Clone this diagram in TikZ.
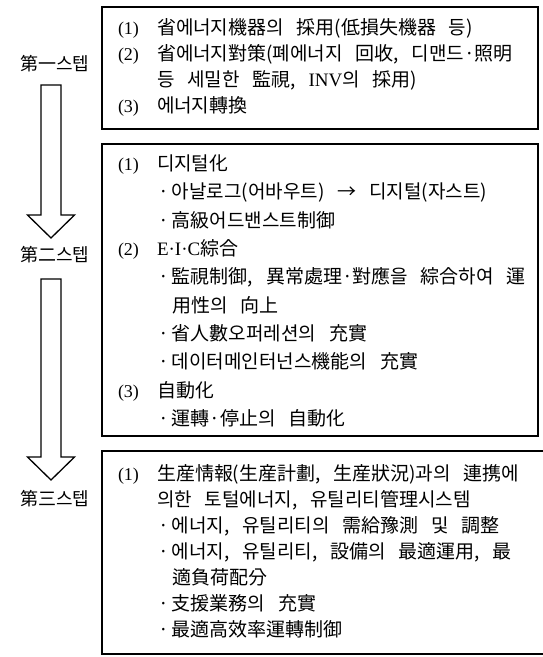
\documentclass[tikz,border=0pt]{standalone}
\usepackage{fontspec}
\setmainfont{Liberation Serif}
\newfontfamily\kr[WordSpace=3.0]{Noto Sans CJK KR}
\usetikzlibrary{calc}
\newcommand{\bul}{\makebox[14pt][l]{·}}
\newcommand{\latn}[1]{{\rmfamily #1}}
\begin{document}
\begin{tikzpicture}[x=1pt,y=-1pt,
  every node/.style={inner sep=0pt,outer sep=0pt},
  ln/.style={anchor=base west,font=\kr\fontsize{19}{22}\selectfont},
  num/.style={anchor=base west,font=\rmfamily\fontsize{18}{20}\selectfont},
  lab/.style={anchor=base,font=\kr\fontsize{18}{22}\selectfont},
  frame/.style={draw,line width=1.2pt,anchor=north west},
  blk/.style={draw,line width=1.3pt,line join=miter}]
\useasboundingbox (0,0) rectangle (543,657);
% boxes
\node[frame,minimum width=436pt,minimum height=122pt] (box1) at (102,7) {};
\node[frame,minimum width=436pt,minimum height=292pt] (box2) at (102,144) {};
\node[frame,minimum width=446pt,minimum height=203pt] (box3) at (102,451) {};
% step labels
\node[lab] (s1) at (55,70) {第一스텝};
\node[lab] (s2) at (55,261) {第二스텝};
\node[lab] (s3) at (55,505) {第三스텝};
% block arrows
\coordinate (a1s) at (51,85); \coordinate (a1e) at (51,238);
\coordinate (a2s) at (51,279); \coordinate (a2e) at (51,480);
\foreach \s/\e in {a1s/a1e,a2s/a2e}{
  \draw[blk] ($(\s)+(-10,0)$) -- ($(\s)+(10,0)$) -- ($(\e)+(10,-23)$) -- ($(\e)+(23.5,-23)$)
    -- (\e) -- ($(\e)+(-23.5,-23)$) -- ($(\e)+(-10,-23)$) -- cycle;
}
% box 1
\node[num] (b1n1) at (118,34) {(1)};
\node[ln] (b1t1) at (157,34) {省에너지機器의 採用(低損失機器 등)};
\node[num] (b1n2) at (118,60) {(2)};
\node[ln] (b1t2) at (157,60) {省에너지對策(폐에너지 回收, 디맨드·照明};
\node[ln] (b1t3) at (157,86) {등 세밀한 監視, \latn{INV}의 採用)};
\node[num] (b1n3) at (118,112) {(3)};
\node[ln] (b1t4) at (157,112) {에너지轉換};
% box 2
\node[num] (b2n1) at (118,170) {(1)};
\node[ln] (b2t1) at (157,170) {디지털化};
\node[ln] (b2t2) at (158,198) {\bul 아날로그(어바우트) → 디지털(자스트)};
\node[ln] (b2t3) at (158,227) {\bul 高級어드밴스트制御};
\node[num] (b2n2) at (118,255) {(2)};
\node[ln] (b2t4) at (157,255) {\latn{E·I·C}綜合};
\node[ln] (b2t5) at (158,283) {\bul 監視制御, 異常處理·對應을 綜合하여 運};
\node[ln] (b2t6) at (172,312) {用性의 向上};
\node[ln] (b2t7) at (158,340) {\bul 省人數오퍼레션의 充實};
\node[ln] (b2t8) at (158,368) {\bul 데이터메인터넌스機能의 充實};
\node[num] (b2n3) at (118,397) {(3)};
\node[ln] (b2t9) at (157,397) {自動化};
\node[ln] (b2t10) at (158,425) {\bul 運轉·停止의 自動化};
% box 3
\node[num] (b3n1) at (118,480) {(1)};
\node[ln] (b3t1) at (157,480) {生産情報(生産計劃, 生産狀況)과의 連携에};
\node[ln] (b3t2) at (157,506) {의한 토털에너지, 유틸리티管理시스템};
\node[ln] (b3t3) at (158,532) {\bul 에너지, 유틸리티의 需給豫測 및 調整};
\node[ln] (b3t4) at (158,558) {\bul 에너지, 유틸리티, 設備의 最適運用, 最};
\node[ln] (b3t5) at (172,584) {適負荷配分};
\node[ln] (b3t6) at (158,610) {\bul 支援業務의 充實};
\node[ln] (b3t7) at (158,636) {\bul 最適高效率運轉制御};
\end{tikzpicture}
\end{document}
